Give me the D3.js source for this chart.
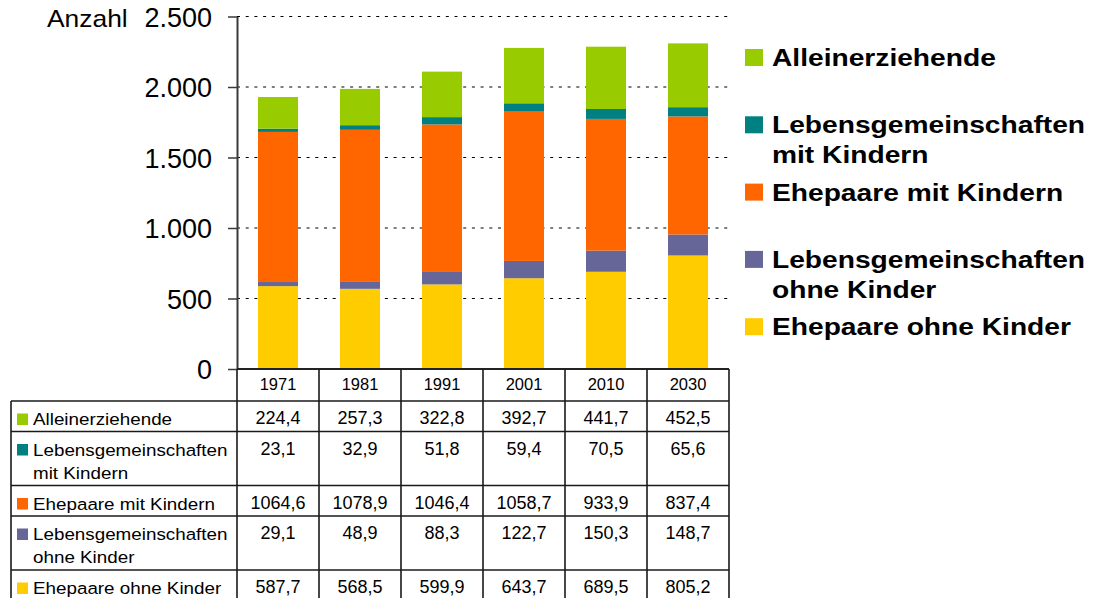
<!DOCTYPE html>
<html>
<head>
<meta charset="utf-8">
<script src="https://cdn.jsdelivr.net/npm/d3@7"></script>
<style>
  html, body { margin: 0; padding: 0; background: #fff; }
  svg { display: block; font-family: "Liberation Sans", Arial, sans-serif; }
</style>
</head>
<body>
<svg id="chart" width="1098" height="598"></svg>
<script>
// ---- data ----
const categories = ["1971", "1981", "1991", "2001", "2010", "2030"];
const alleinerziehende = [224.4, 257.3, 322.8, 392.7, 441.7, 452.5];
const lebensgemeinschaftenMitKindern = [23.1, 32.9, 51.8, 59.4, 70.5, 65.6];
const ehepaareMitKindern = [1064.6, 1078.9, 1046.4, 1058.7, 933.9, 837.4];
const lebensgemeinschaftenOhneKinder = [29.1, 48.9, 88.3, 122.7, 150.3, 148.7];
const ehepaareOhneKinder = [587.7, 568.5, 599.9, 643.7, 689.5, 805.2];
const yTicks = [0, 500, 1000, 1500, 2000, 2500];
const yAxisTitle = "Anzahl";

// series in table / legend order (top to bottom)
const seriesNames = [
  ["Alleinerziehende"],
  ["Lebensgemeinschaften", "mit Kindern"],
  ["Ehepaare mit Kindern"],
  ["Lebensgemeinschaften", "ohne Kinder"],
  ["Ehepaare ohne Kinder"]
];
const seriesValues = [alleinerziehende, lebensgemeinschaftenMitKindern, ehepaareMitKindern,
                      lebensgemeinschaftenOhneKinder, ehepaareOhneKinder];
const seriesColors = ["#99CC00", "#008080", "#FF6600", "#666699", "#FFCC00"];

// ---- setup ----
const svg = d3.select("#chart");
const de = d3.formatLocale({decimal: ",", thousands: ".", grouping: [3], currency: ["", " €"]});
const fmtTick = de.format(",");
const fmtVal = de.format(".1f");

const plotLeft = 237, plotRight = 729, plotTop = 16.5, plotBottom = 369;

const x = d3.scaleBand().domain(categories).range([plotLeft, plotRight])
  .paddingInner(0.512).paddingOuter(0.256);
const y = d3.scaleLinear().domain([0, 2500]).range([plotBottom, plotTop]);

function addText(parent, tx, ty, str, size, opts = {}) {
  return parent.append("text")
    .attr("transform", `translate(${tx},${ty}) scale(${opts.sx || 1},1)`)
    .attr("text-anchor", opts.anchor || "start")
    .attr("font-size", size)
    .attr("font-weight", opts.weight || "normal")
    .attr("fill", "#000")
    .text(str);
}

// ---- gridlines ----
svg.append("g").selectAll("line")
  .data(yTicks.filter(t => t > 0))
  .join("line")
  .attr("x1", plotLeft).attr("x2", plotRight)
  .attr("y1", d => y(d)).attr("y2", d => y(d))
  .attr("stroke", "#000").attr("stroke-width", 1.2)
  .attr("stroke-dasharray", "3,5.7");

// ---- stacked bars ----
const rows = categories.map((c, i) => {
  const o = {cat: c};
  seriesValues.forEach((vals, s) => { o["s" + s] = vals[i]; });
  return o;
});
const stackKeys = ["s4", "s3", "s2", "s1", "s0"]; // bottom to top
const stacked = d3.stack().keys(stackKeys)(rows);
svg.append("g").selectAll("g")
  .data(stacked)
  .join("g")
  .attr("fill", d => seriesColors[+d.key.slice(1)])
  .selectAll("rect")
  .data(d => d)
  .join("rect")
  .attr("x", d => x(d.data.cat))
  .attr("width", x.bandwidth())
  .attr("y", d => y(d[1]))
  .attr("height", d => y(d[0]) - y(d[1]));

// ---- y axis ----
const yAxis = d3.axisLeft(y).tickValues(yTicks).tickFormat("").tickSize(9).tickSizeOuter(0);
const gy = svg.append("g").attr("transform", `translate(${plotLeft},0)`).call(yAxis);
gy.select(".domain").attr("stroke", "#3a3a3a").attr("stroke-width", 2);
gy.selectAll(".tick line").attr("stroke", "#3a3a3a").attr("stroke-width", 1.5);
yTicks.forEach(t => addText(svg, 212, y(t) + 10, fmtTick(t), 27, {anchor: "end"}));
addText(svg, 47, 27, yAxisTitle, 24, {sx: 1.1});

// x baseline
svg.append("line").attr("x1", plotLeft).attr("x2", plotRight)
  .attr("y1", plotBottom).attr("y2", plotBottom)
  .attr("stroke", "#222").attr("stroke-width", 2);

// ---- data table ----
const tbl = svg.append("g");
const tableLeft = 11;
const headerBottom = 401;
const rowHeights = seriesNames.map(n => n.length === 1 ? 30.5 : 54);
const rowTops = [];
let acc = headerBottom;
rowHeights.forEach(h => { rowTops.push(acc); acc += h; });
const tableBottom = acc;
const colEdges = [plotLeft].concat(categories.map(c => x(c) - (x.step() - x.bandwidth()) / 2 + x.step()));
const lineColor = "#1a1a1a";

// horizontal lines
rowTops.concat([tableBottom]).forEach(yy => {
  tbl.append("line").attr("x1", tableLeft).attr("x2", plotRight)
    .attr("y1", yy).attr("y2", yy).attr("stroke", lineColor).attr("stroke-width", 1.6);
});
// vertical lines
colEdges.forEach(xx => {
  tbl.append("line").attr("x1", xx).attr("x2", xx)
    .attr("y1", plotBottom).attr("y2", tableBottom).attr("stroke", lineColor).attr("stroke-width", 1.6);
});
tbl.append("line").attr("x1", tableLeft).attr("x2", tableLeft)
  .attr("y1", headerBottom).attr("y2", tableBottom).attr("stroke", lineColor).attr("stroke-width", 1.6);

// header years
categories.forEach(c => addText(tbl, x(c) + x.bandwidth() / 2, 390, c, 16.5, {anchor: "middle"}));

// rows
seriesNames.forEach((lines, s) => {
  const base = rowTops[s] + 24;
  tbl.append("rect").attr("x", 17).attr("y", base - 11.5).attr("width", 11).attr("height", 11.5)
    .attr("fill", seriesColors[s]);
  lines.forEach((ln, li) => addText(tbl, 33, base + li * 23, ln, 16.8, {sx: 1.12}));
  categories.forEach((c, i) => {
    addText(tbl, x(c) + x.bandwidth() / 2, base - 1, fmtVal(seriesValues[s][i]), 18, {anchor: "middle"});
  });
});

// ---- legend ----
const lg = svg.append("g");
seriesNames.forEach((lines, s) => {
  const base = 66 + s * 67.3;
  lg.append("rect").attr("x", 745).attr("y", base - 17).attr("width", 18).attr("height", 17)
    .attr("fill", seriesColors[s]);
  lines.forEach((ln, li) => addText(lg, 772, base + li * 29.7, ln, 24.5, {weight: "bold", sx: 1.15}));
});
</script>
</body>
</html>
